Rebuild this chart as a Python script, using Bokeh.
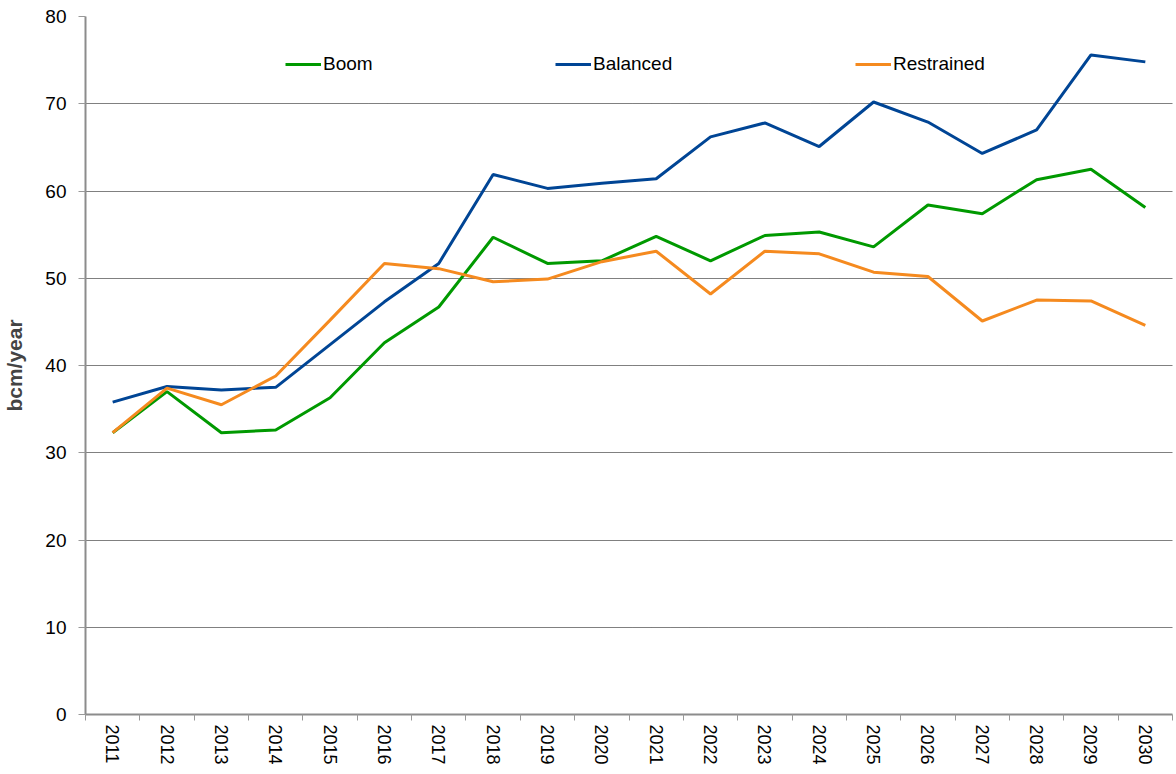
from bokeh.plotting import figure
from bokeh.models import FixedTicker, Legend, LegendItem, Range1d
from bokeh.embed import file_html
from bokeh.resources import INLINE

years = list(range(2011, 2031))
boom = [32.3, 37.0, 32.3, 32.6, 36.3, 42.6, 46.7, 54.7, 51.7, 52.0,
        54.8, 52.0, 54.9, 55.3, 53.6, 58.4, 57.4, 61.3, 62.5, 58.1]
balanced = [35.8, 37.6, 37.2, 37.5, 42.4, 47.3, 51.7, 61.9, 60.3, 60.9,
            61.4, 66.2, 67.8, 65.1, 70.2, 67.9, 64.3, 67.0, 75.6, 74.8]
restrained = [32.3, 37.4, 35.5, 38.8, 45.2, 51.7, 51.1, 49.6, 49.9, 51.9,
              53.1, 48.2, 53.1, 52.8, 50.7, 50.2, 45.1, 47.5, 47.4, 44.6]
y_ticks = [0, 10, 20, 30, 40, 50, 60, 70, 80]
series_names = ["Boom", "Balanced", "Restrained"]
colors = ["#009900", "#004595", "#F58A1F"]

FONT = "Liberation Sans"

p = figure(width=1175, height=767, output_backend="svg", toolbar_location=None,
           x_range=Range1d(years[0] - 0.5, years[-1] + 0.5),
           y_range=Range1d(0, 80),
           min_border_left=0, min_border_right=3, min_border_top=16, min_border_bottom=0)
p.outline_line_color = None
p.background_fill_color = "white"
p.border_fill_color = "white"

# Axes
p.xaxis.ticker = FixedTicker(ticks=years, minor_ticks=[y - 0.5 for y in years] + [years[-1] + 0.5])
p.xaxis.major_tick_out = 0
p.xaxis.major_tick_in = 0
p.xaxis.minor_tick_out = 6
p.xaxis.minor_tick_in = 0
p.xaxis.minor_tick_line_color = "#999999"
p.xaxis.axis_line_color = "#8C8C8C"
p.xaxis.axis_line_width = 2
p.xaxis.major_label_orientation = "vertical"
p.xaxis.major_label_text_font = FONT
p.xaxis.major_label_text_font_size = "18px"
p.xaxis.major_label_text_color = "black"
p.xaxis.major_label_standoff = 4

p.yaxis.ticker = FixedTicker(ticks=y_ticks)
p.yaxis.minor_tick_line_color = None
p.yaxis.major_tick_out = 7
p.yaxis.major_tick_in = 0
p.yaxis.major_tick_line_color = "#999999"
p.yaxis.axis_line_color = "#8C8C8C"
p.yaxis.axis_line_width = 2
p.yaxis.major_label_text_font = FONT
p.yaxis.major_label_text_font_size = "19px"
p.yaxis.major_label_text_color = "black"
p.yaxis.major_label_standoff = 12
p.yaxis.axis_label = "bcm/year"
p.yaxis.axis_label_text_font = FONT
p.yaxis.axis_label_text_font_size = "21px"
p.yaxis.axis_label_text_font_style = "bold"
p.yaxis.axis_label_standoff = 16

p.xgrid.grid_line_color = None
p.ygrid.ticker = FixedTicker(ticks=y_ticks[1:])
p.ygrid.grid_line_color = "#000000"
p.ygrid.grid_line_dash = "1 1"
p.ygrid.grid_line_width = 1

renderers = []
for name, vals, c in zip(series_names, [boom, balanced, restrained], colors):
    r = p.line(years, vals, line_color=c, line_width=3)
    renderers.append(r)

legend_x = [200, 470, 770]
for name, r, lx in zip(series_names, renderers, legend_x):
    lg = Legend(items=[LegendItem(label=name, renderers=[r])],
                location=(lx, 639), orientation="horizontal",
                border_line_color=None, background_fill_alpha=0,
                padding=0, margin=0, glyph_width=36, glyph_height=18,
                label_standoff=2, label_text_font=FONT,
                label_text_font_size="19px", label_text_color="black",
                label_height=18)
    p.add_layout(lg, "center")

open("out.html", "w").write(file_html(p, INLINE))
